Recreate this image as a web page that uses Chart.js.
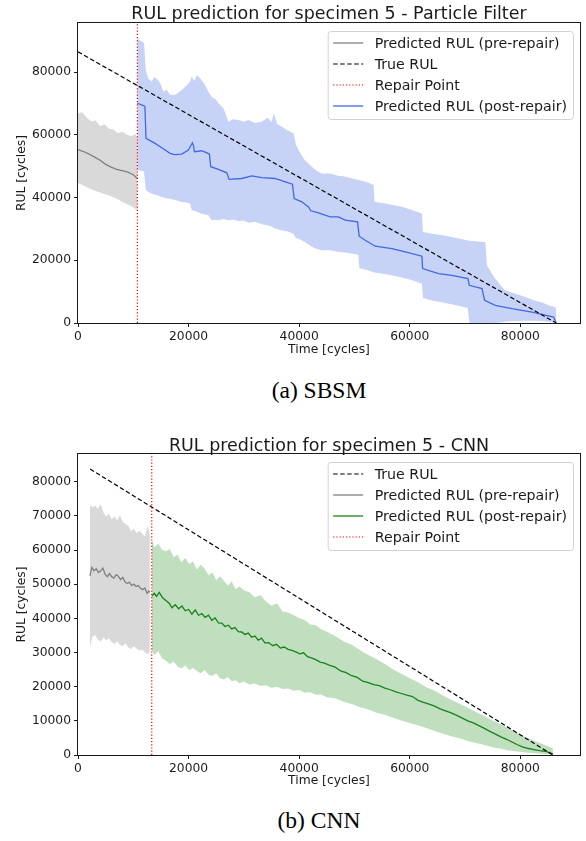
<!DOCTYPE html>
<html>
<head>
<meta charset="utf-8">
<script src="https://cdn.jsdelivr.net/npm/chart.js@4.4.1/dist/chart.umd.min.js"></script>
<style>
  html, body { margin: 0; padding: 0; background: #fff; }
  #page { position: relative; width: 586px; height: 841px; overflow: hidden; }
  #page canvas { position: absolute; left: 0; }
  .caption {
    position: absolute; left: 119px; width: 400px; text-align: center;
    font-family: "Liberation Serif", serif; font-size: 23.5px; line-height: 28px; color: #000;
  }
</style>
</head>
<body>
<div id="page">
  <canvas id="pfChart" width="586" height="362" style="top:0px"></canvas>
  <div class="caption" style="top:376px">(a) SBSM</div>
  <canvas id="cnnChart" width="586" height="362" style="top:431px"></canvas>
  <div class="caption" style="top:806px">(b) CNN</div>
</div>
<script>
// ---------- shared axis ticks ----------
const xTicks = [0, 20000, 40000, 60000, 80000];
const pfYTicks = [0, 20000, 40000, 60000, 80000];
const cnnYTicks = [0, 10000, 20000, 30000, 40000, 50000, 60000, 70000, 80000];

// ---------- (a) particle filter ----------
const pfRepair = 10740;
const pfTrueT = [0, 86500];
const pfTrueRul = [86500, 0];

const pfPreT = [0, 1000, 2000, 3000, 4000, 5000, 6000, 7000, 8000, 9000, 10000, 10740];
const pfPreRul = [55300, 54700, 53900, 52900, 51900, 50600, 49700, 49000, 48600, 48100, 47300, 46100];

const pfPreBandT = [0, 800, 1600, 2400, 3200, 4000, 4800, 5600, 6400, 7200, 8000, 8800, 9600, 10400, 10740];
const pfPreUpper = [66900, 67200, 65500, 64300, 64600, 62800, 63400, 62000, 61700, 60500, 61000, 60100, 59600, 60200, 58900];
const pfPreLower = [44600, 44100, 43300, 42700, 42100, 41600, 41100, 40700, 40100, 39500, 38700, 38000, 37300, 36400, 36100];

const pfPostT = [10740, 11950, 12100, 12300, 13940, 15500, 16650, 17500, 18760, 19970,
  20700, 20900, 21050, 22390, 23770, 24010, 25400, 26910, 27330, 29620,
  31430, 33240, 35660, 37470, 38790, 39100, 40480, 41690, 42110, 43490,
  45610, 47110, 48330, 50560, 50860, 51950, 53760, 56780, 59190, 62210,
  62330, 65210, 67640, 70530, 70770, 73070, 73550, 75480, 78500, 82120,
  86030, 86500];
const pfPostRul = [70100, 69250, 69200, 58900, 57300, 55500, 54100, 53700, 53900, 55200,
  57500, 56500, 54650, 54950, 53900, 49850, 49000, 47900, 45800, 46100,
  46900, 46400, 46100, 45050, 44300, 39700, 38650, 37050, 35800, 35150,
  33850, 33860, 32800, 32260, 27690, 26400, 24490, 23750, 22670, 21300,
  17360, 15760, 15220, 14160, 12020, 10960, 7230, 5630, 4570, 3480,
  1890, 0];

const pfBandT = [10740, 11300, 11950, 12250, 12700, 13280, 13800, 14480, 15000, 15450,
  16000, 16600, 17560, 18200, 18760, 19500, 20270, 20570, 21000, 21500,
  22080, 22800, 23590, 24200, 24800, 25400, 26300, 27210, 28000, 29020,
  30000, 30820, 32000, 33240, 34300, 35000, 35440, 36000, 36870, 37800,
  38970, 39400, 39880, 41000, 42300, 43200, 44100, 45610, 47000, 48000,
  49500, 50700, 50900, 52200, 53450, 53640, 56000, 58590, 60500, 62200,
  62400, 64000, 66000, 68840, 70500, 70800, 72300, 73670, 73970, 75300,
  76690, 77300, 79000, 80900, 82500, 84000, 85200, 86330, 86500];
const pfUpper = [90900, 90000, 89300, 80750, 78000, 77000, 78500, 77500, 76000, 73800,
  74500, 72900, 72750, 73500, 74350, 75500, 77000, 78600, 77200, 79000,
  78100, 76500, 73800, 72000, 71500, 70100, 68500, 64230, 65000, 64770,
  64200, 64770, 63800, 64230, 65500, 64000, 66900, 63500, 62630, 61500,
  60500, 57000, 55180, 52000, 49840, 48500, 47730, 47730, 47000, 46800,
  46200, 45600, 45500, 45000, 44000, 38650, 38000, 37050, 36000, 34940,
  29060, 28500, 28000, 26950, 26300, 26200, 26000, 25860, 18410, 14500,
  11480, 10400, 9400, 8280, 7200, 6500, 5600, 5080, 4000];
const pfLower = [48800, 48600, 48300, 42400, 41900, 41330, 41000, 40700, 40300, 40000,
  39800, 39600, 39200, 38900, 38600, 38400, 38140, 36000, 35800, 35600,
  35000, 34700, 34400, 32800, 32900, 32800, 33200, 32800, 33000, 32500,
  32700, 32000, 32300, 31500, 31200, 30800, 30300, 30000, 29500, 29300,
  28500, 27000, 26950, 25800, 24300, 23600, 23210, 23210, 22700, 22600,
  22200, 21800, 17500, 17000, 16200, 16100, 15500, 14500, 13600, 12500,
  8000, 7200, 6500, 5500, 4800, 0, 0, 0, 0, 0,
  200, 500, 600, 700, 700, 600, 400, 300, 0];

// ---------- (b) CNN ----------
const cnnRepair = 13340;
const cnnTrueT = [2200, 85900];
const cnnTrueRul = [83700, 0];

const cnnPreT = [2170, 2500, 2900, 3300, 3700, 4100, 4500, 4900, 5300, 5700,
  6100, 6500, 6900, 7300, 7700, 8100, 8500, 8900, 9300, 9700,
  10100, 10500, 10900, 11300, 11700, 12100, 12500, 12800, 13000];
const cnnPreRul = [52400, 54900, 53900, 54500, 53400, 53900, 54700, 52900, 52200, 53100,
  52200, 51800, 52800, 52300, 51300, 52000, 50700, 50200, 50600, 49600,
  50000, 49300, 49600, 48800, 48400, 48900, 47300, 48000, 47600];

const cnnPreBandT = [2170, 2600, 3100, 3600, 4100, 4600, 5100, 5600, 6100, 6600,
  7100, 7600, 8100, 8600, 9100, 9600, 10100, 10600, 11100, 11600,
  12100, 12600, 13000];
const cnnPreUpper = [73200, 72500, 73000, 72000, 73400, 71000, 69800, 70600, 68900, 69800,
  68600, 70100, 68200, 67600, 67000, 65500, 66200, 65000, 65600, 64800,
  63900, 67200, 64300];
const cnnPreLower = [31600, 34600, 35100, 33800, 33200, 34400, 33600, 34100, 33100, 32500,
  33300, 32200, 31900, 32700, 31500, 31000, 31800, 31200, 30600, 30900,
  30100, 29500, 30400];

const cnnPostT = [13340, 13800, 14200, 14700, 15300, 15900, 16500, 17000, 17600, 18200,
  18800, 19400, 20000, 20600, 21200, 21800, 22400, 23000, 23600, 24200,
  24800, 25400, 26000, 26600, 27200, 27800, 28400, 29000, 29600, 30200,
  30800, 31400, 32000, 32600, 33200, 33800, 34500, 35200, 35900, 36600,
  37300, 38000, 38700, 39400, 40100, 40800, 41500, 42200, 43000, 43800,
  44600, 45400, 46500, 47500, 48500, 49500, 50500, 51500, 52500, 53500,
  54500, 55500, 56500, 57500, 58500, 59500, 60500, 61500, 62500, 63500,
  64500, 65500, 66500, 67500, 68500, 69500, 70500, 71500, 72500, 73500,
  74500, 75500, 76500, 77500, 78500, 79500, 80500, 81500, 82500, 83500,
  84500, 85900];
const cnnPostRul = [46500, 47300, 46400, 47600, 46000, 45200, 44400, 43100, 44000, 42800,
  43600, 42200, 42600, 41200, 42500, 40900, 41400, 40300, 40900, 39400,
  40100, 38700, 38600, 37600, 38000, 36900, 37300, 36100, 36000, 35300,
  35700, 34500, 34800, 33600, 34200, 32800, 32900, 32000, 32400, 31300,
  31600, 30900, 30600, 30200, 29600, 29900, 28800, 28400, 27900, 27200,
  26900, 26300, 25700, 24600, 24100, 23200, 22700, 21600, 21200, 20600,
  20300, 19600, 19100, 18500, 18000, 17500, 17100, 16000, 15400, 14900,
  14300, 13500, 12900, 12300, 11600, 10800, 10000, 9400, 8600, 7800,
  6900, 6100, 5300, 4600, 3800, 3000, 2300, 1900, 1600, 1300,
  1100, 300];

const cnnBandT = [13340, 13800, 14500, 15200, 15900, 16600, 17300, 18000, 18700, 19400,
  20100, 20800, 21500, 22200, 22900, 23600, 24300, 25000, 25700, 26400,
  27100, 27800, 28500, 29200, 30000, 31000, 32000, 33000, 34000, 35000,
  36000, 37000, 38000, 39000, 40000, 41000, 42000, 43000, 44000, 45000,
  46500, 48000, 49500, 51000, 52500, 54000, 55500, 57000, 58500, 60000,
  61500, 63000, 64500, 66000, 67500, 69000, 70500, 72000, 73500, 75000,
  76500, 78000, 79500, 81000, 82500, 84000, 85900];
const cnnUpper = [62900, 60800, 61900, 60100, 59600, 60300, 57900, 58600, 56400, 57700,
  55900, 56600, 54300, 55700, 54500, 52600, 53400, 51200, 52300, 50900,
  49600, 50800, 48600, 49300, 48200, 47600, 46100, 46800, 44900, 43700,
  44400, 42000, 41700, 40900, 40100, 39500, 38200, 38000, 36800, 36100,
  34800, 33300, 32300, 30700, 29300, 28000, 26600, 25000, 23800, 22500,
  21300, 19800, 18800, 17400, 16200, 15000, 13800, 12600, 11400, 10100,
  8900, 7700, 6500, 5200, 4200, 3200, 2000];
const cnnLower = [31000, 29200, 30400, 28300, 27600, 26600, 27400, 25900, 25300, 26300,
  24900, 25500, 24600, 23900, 24900, 23500, 23100, 23900, 22500, 22100,
  22800, 21600, 21900, 21000, 21500, 20600, 20900, 20200, 20400, 19700,
  20000, 19300, 19500, 18800, 19000, 18200, 18400, 17600, 17700, 16900,
  16600, 15600, 14900, 14000, 13300, 12400, 11800, 10900, 10100, 9400,
  8700, 7900, 7000, 6300, 5500, 4900, 4100, 3500, 2900, 2300,
  1800, 1300, 1000, 700, 500, 300, 150];

// ---------- helpers ----------
const FONT = "'DejaVu Sans', sans-serif";
const INK = '#1a1a1a';
const tickFont = { family: "'DejaVu Sans', sans-serif", size: 12.3 };

function pts(xs, ys) {
  return xs.map((x, i) => ({ x: x, y: ys[i] }));
}

function band(xs, up, lo, color) {
  return [
    { data: pts(xs, up), borderWidth: 0, pointRadius: 0, backgroundColor: color, fill: '+1', order: 3 },
    { data: pts(xs, lo), borderWidth: 0, pointRadius: 0, fill: false, order: 3 }
  ];
}

function line(label, xs, ys, color, width, dash, order) {
  return {
    label: label, data: pts(xs, ys), borderColor: color, backgroundColor: color,
    borderWidth: width, borderDash: dash, pointRadius: 0, tension: 0, fill: false, order: order
  };
}

// title over the axes, four spines, matplotlib-like legend box
const framePlugin = {
  id: 'frame',
  afterDraw(chart, args, o) {
    const { ctx, chartArea: a } = chart;
    ctx.save();
    ctx.fillStyle = INK;
    ctx.font = o.titleSize + 'px ' + FONT;
    ctx.textAlign = 'center';
    ctx.textBaseline = 'alphabetic';
    ctx.fillText(o.title, (a.left + a.right) / 2, o.titleY);

    ctx.strokeStyle = INK;
    ctx.lineWidth = 1;
    ctx.strokeRect(a.left - 0.5, a.top - 0.5, a.right - a.left + 1, a.bottom - a.top + 1);

    const items = o.legend.map(l => chart.data.datasets.find(d => d.label === l));
    ctx.font = '14.2px ' + FONT;
    const textW = Math.max(...items.map(d => ctx.measureText(d.label).width));
    const w = 5.5 + 30 + 11.5 + textW + 6;
    const h = 88;
    const x0 = a.right - 7 - w;
    const y0 = a.top + 8;
    ctx.beginPath();
    ctx.roundRect(x0 + 0.5, y0 + 0.5, w, h, 3);
    ctx.fillStyle = 'rgba(255,255,255,0.8)';
    ctx.fill();
    ctx.strokeStyle = '#d2d2d2';
    ctx.stroke();
    items.forEach((d, i) => {
      const cy = y0 + 12 + 21 * i;
      ctx.beginPath();
      ctx.setLineDash(d.borderDash || []);
      ctx.strokeStyle = d.borderColor;
      ctx.lineWidth = d.borderWidth;
      ctx.moveTo(x0 + 5.5, cy);
      ctx.lineTo(x0 + 35.5, cy);
      ctx.stroke();
      ctx.setLineDash([]);
      ctx.fillStyle = INK;
      ctx.textAlign = 'left';
      ctx.textBaseline = 'middle';
      ctx.fillText(d.label, x0 + 47, cy + 1);
    });
    ctx.restore();
  }
};

function makeChart(id, datasets, yMax, yTicks, xMax, xHeight, titleOpts) {
  return new Chart(document.getElementById(id), {
    type: 'line',
    data: { datasets: datasets },
    plugins: [framePlugin],
    options: {
      responsive: false,
      animation: false,
      events: [],
      layout: { padding: { top: 23, right: 6, left: 0, bottom: 0 } },
      plugins: {
        legend: { display: false },
        tooltip: { enabled: false },
        title: { display: false },
        frame: titleOpts
      },
      scales: {
        x: {
          type: 'linear', min: 0, max: xMax,
          afterBuildTicks: s => { s.ticks = xTicks.map(v => ({ value: v })); },
          afterFit: s => { s.height = xHeight; },
          grid: { drawOnChartArea: false, drawTicks: true, tickLength: 4, color: INK, tickColor: INK },
          border: { display: false },
          ticks: { color: INK, font: tickFont, padding: 2, maxRotation: 0, autoSkip: false, callback: v => String(v) },
          title: { display: true, text: 'Time [cycles]', color: INK, font: tickFont, padding: { top: 0, bottom: 5 } }
        },
        y: {
          type: 'linear', min: 0, max: yMax,
          afterBuildTicks: s => { s.ticks = yTicks.map(v => ({ value: v })); },
          afterFit: s => { s.width = 78; },
          grid: { drawOnChartArea: false, drawTicks: true, tickLength: 4, color: INK, tickColor: INK },
          border: { display: false },
          ticks: { color: INK, font: tickFont, padding: 3, autoSkip: false, callback: v => String(v) },
          title: { display: true, text: 'RUL [cycles]', color: INK, font: tickFont, padding: { top: 14, bottom: 0 } }
        }
      }
    }
  });
}

// ---------- (a) ----------
const pfYMax = 95700;
makeChart('pfChart', [
  ...band(pfPreBandT, pfPreUpper, pfPreLower, 'rgba(128,128,128,0.3)'),
  ...band(pfBandT, pfUpper, pfLower, 'rgba(65,105,225,0.3)'),
  line('Predicted RUL (pre-repair)', pfPreT, pfPreRul, '#808080', 1.3, [], 2),
  line('Predicted RUL (post-repair)', pfPostT, pfPostRul, '#4169e1', 1.3, [], 2),
  line('True RUL', pfTrueT, pfTrueRul, '#000000', 1.2, [4.5, 2.5], 1),
  line('Repair Point', [pfRepair, pfRepair], [0, pfYMax], '#ff0000', 1.2, [1.2, 2], 0)
], pfYMax, pfYTicks, 90800, 39, {
  title: 'RUL prediction for specimen 5 - Particle Filter', titleSize: 17.5, titleY: 18.5,
  legend: ['Predicted RUL (pre-repair)', 'True RUL', 'Repair Point', 'Predicted RUL (post-repair)']
});

// ---------- (b) ----------
const cnnYMax = 88100;
makeChart('cnnChart', [
  ...band(cnnPreBandT, cnnPreUpper, cnnPreLower, 'rgba(128,128,128,0.3)'),
  ...band(cnnBandT, cnnUpper, cnnLower, 'rgba(0,128,0,0.25)'),
  line('Predicted RUL (pre-repair)', cnnPreT, cnnPreRul, '#808080', 1.3, [], 2),
  line('Predicted RUL (post-repair)', cnnPostT, cnnPostRul, '#1a821a', 1.3, [], 2),
  line('True RUL', cnnTrueT, cnnTrueRul, '#000000', 1.2, [4.5, 2.5], 1),
  line('Repair Point', [cnnRepair, cnnRepair], [0, cnnYMax], '#ff0000', 1.2, [1.2, 2], 0)
], cnnYMax, cnnYTicks, 90800, 38, {
  title: 'RUL prediction for specimen 5 - CNN', titleSize: 17.5, titleY: 19.7,
  legend: ['True RUL', 'Predicted RUL (pre-repair)', 'Predicted RUL (post-repair)', 'Repair Point']
});
</script>
</body>
</html>
